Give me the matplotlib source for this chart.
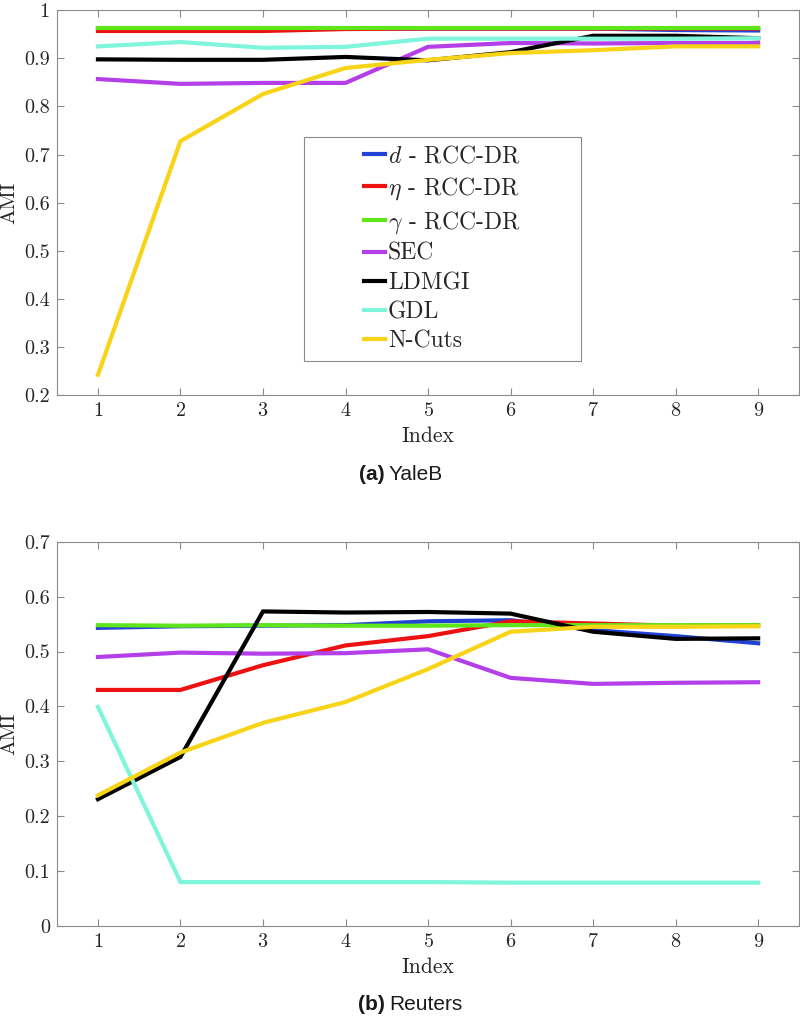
import matplotlib
matplotlib.use("Agg")
import matplotlib.pyplot as plt
from matplotlib.ticker import FormatStrFormatter
from matplotlib.patches import Rectangle

plt.rcParams['font.family'] = 'cmr10'
plt.rcParams['mathtext.fontset'] = 'cm'
plt.rcParams['axes.formatter.use_mathtext'] = True

index = [1, 2, 3, 4, 5, 6, 7, 8, 9]
labels = [r'$d$ - RCC-DR', r'$\eta$ - RCC-DR', r'$\gamma$ - RCC-DR', 'SEC', 'LDMGI', 'GDL', 'N-Cuts']
colors = ['#2342d6', '#ee1111', '#5fe61a', '#b43fe8', '#000000', '#7ff5dc', '#f7d417']

# YaleB
yale_d     = [0.963, 0.963, 0.963, 0.962, 0.962, 0.962, 0.962, 0.959, 0.958]
yale_eta   = [0.957, 0.957, 0.957, 0.961, 0.962, 0.962, 0.962, 0.962, 0.962]
yale_gamma = [0.964, 0.964, 0.964, 0.964, 0.964, 0.964, 0.964, 0.964, 0.964]
yale_sec   = [0.857, 0.847, 0.849, 0.849, 0.924, 0.932, 0.931, 0.932, 0.932]
yale_ldmgi = [0.898, 0.897, 0.897, 0.903, 0.896, 0.913, 0.947, 0.947, 0.942]
yale_gdl   = [0.925, 0.934, 0.922, 0.924, 0.941, 0.941, 0.941, 0.941, 0.942]
yale_ncuts = [0.242, 0.728, 0.826, 0.880, 0.897, 0.911, 0.917, 0.925, 0.925]

# Reuters
reut_d     = [0.543, 0.546, 0.547, 0.548, 0.555, 0.557, 0.539, 0.528, 0.515]
reut_eta   = [0.430, 0.430, 0.475, 0.511, 0.528, 0.555, 0.551, 0.547, 0.548]
reut_gamma = [0.548, 0.547, 0.548, 0.547, 0.547, 0.548, 0.548, 0.548, 0.548]
reut_sec   = [0.490, 0.498, 0.496, 0.497, 0.504, 0.452, 0.441, 0.443, 0.444]
reut_ldmgi = [0.231, 0.308, 0.573, 0.571, 0.572, 0.569, 0.536, 0.523, 0.524]
reut_gdl   = [0.399, 0.080, 0.080, 0.080, 0.080, 0.079, 0.079, 0.079, 0.079]
reut_ncuts = [0.238, 0.316, 0.370, 0.408, 0.468, 0.536, 0.545, 0.545, 0.546]

yale = [yale_d, yale_eta, yale_gamma, yale_sec, yale_ldmgi, yale_gdl, yale_ncuts]
reut = [reut_d, reut_eta, reut_gamma, reut_sec, reut_ldmgi, reut_gdl, reut_ncuts]

W, H = 800, 1017
fig = plt.figure(figsize=(W / 100, H / 100), dpi=100)

gray = '#8a8a8a'
txt = '#262626'

def px_axes(left, top, right, bottom):
    return fig.add_axes([left / W, 1 - bottom / H, (right - left) / W, (bottom - top) / H])

ax1 = px_axes(56.7, 10.3, 799.4, 395)
ax2 = px_axes(56.7, 541.7, 799.4, 926)

for ax, data, ylim, yt in [(ax1, yale, (0.2, 1.0), [0.2, 0.3, 0.4, 0.5, 0.6, 0.7, 0.8, 0.9, 1.0]),
                           (ax2, reut, (0.0, 0.7), [0, 0.1, 0.2, 0.3, 0.4, 0.5, 0.6, 0.7])]:
    for d, c, l in zip(data, colors, labels):
        ax.plot(index, d, color=c, lw=3.0, label=l, solid_joinstyle='miter')
    ax.set_xlim(0.5, 9.5)
    ax.set_ylim(*ylim)
    ax.set_xticks(index)
    ax.set_yticks(yt)
    ax.yaxis.set_major_formatter(FormatStrFormatter('%g'))
    ax.tick_params(direction='in', top=True, right=True, length=5, width=0.8,
                   color=gray, labelcolor=txt, labelsize=14.5, pad=5)
    for s in ax.spines.values():
        s.set_color(gray)
        s.set_linewidth(0.8)
    ax.set_ylabel('AMI', fontsize=15, color=txt)
    ax.yaxis.label.set_va('center')
    ax.yaxis.label.set_ha('center')
    ax.yaxis.set_label_coords(-47.0 / 742.7, 0.5)
    ax.set_xlabel('Index', fontsize=15.5, color=txt)
    ax.xaxis.label.set_va('center')
    ax.xaxis.set_label_coords(0.5, -41.7 / 384.7)

# legend in top axes
box_l, box_r, box_t, box_b = 304, 581, 137, 361
ax1.add_patch(Rectangle(((box_l - 56.7) / 742.7, (395 - box_b) / 384.7),
                        (box_r - box_l) / 742.7, (box_b - box_t) / 384.7,
                        transform=ax1.transAxes, facecolor='white', edgecolor=gray,
                        lw=0.8, zorder=5))
leg = ax1.legend(loc='center', bbox_to_anchor=(((box_l + box_r) / 2 - 56.7) / 742.7,
                                                (395 - (box_t + box_b) / 2) / 384.7),
                 frameon=False, fontsize=17, handlelength=0.85, handletextpad=0.15,
                 labelspacing=0.3, borderpad=0)
leg.set_zorder(6)
for t in leg.get_texts():
    t.set_color(txt)

# captions
def caption(y, tag, name):
    fig.text(385 / W, 1 - y / H, tag, ha='right', va='center', fontsize=15,
             fontweight='bold', family='Liberation Sans', color='#1a1a1a')
    fig.text(389 / W, 1 - y / H, name, ha='left', va='center', fontsize=15,
             family='Liberation Sans', color='#1a1a1a')

caption(475, '(a)', 'YaleB')
caption(1005, '(b)', 'Reuters')

fig.savefig('out.png', dpi=100)
